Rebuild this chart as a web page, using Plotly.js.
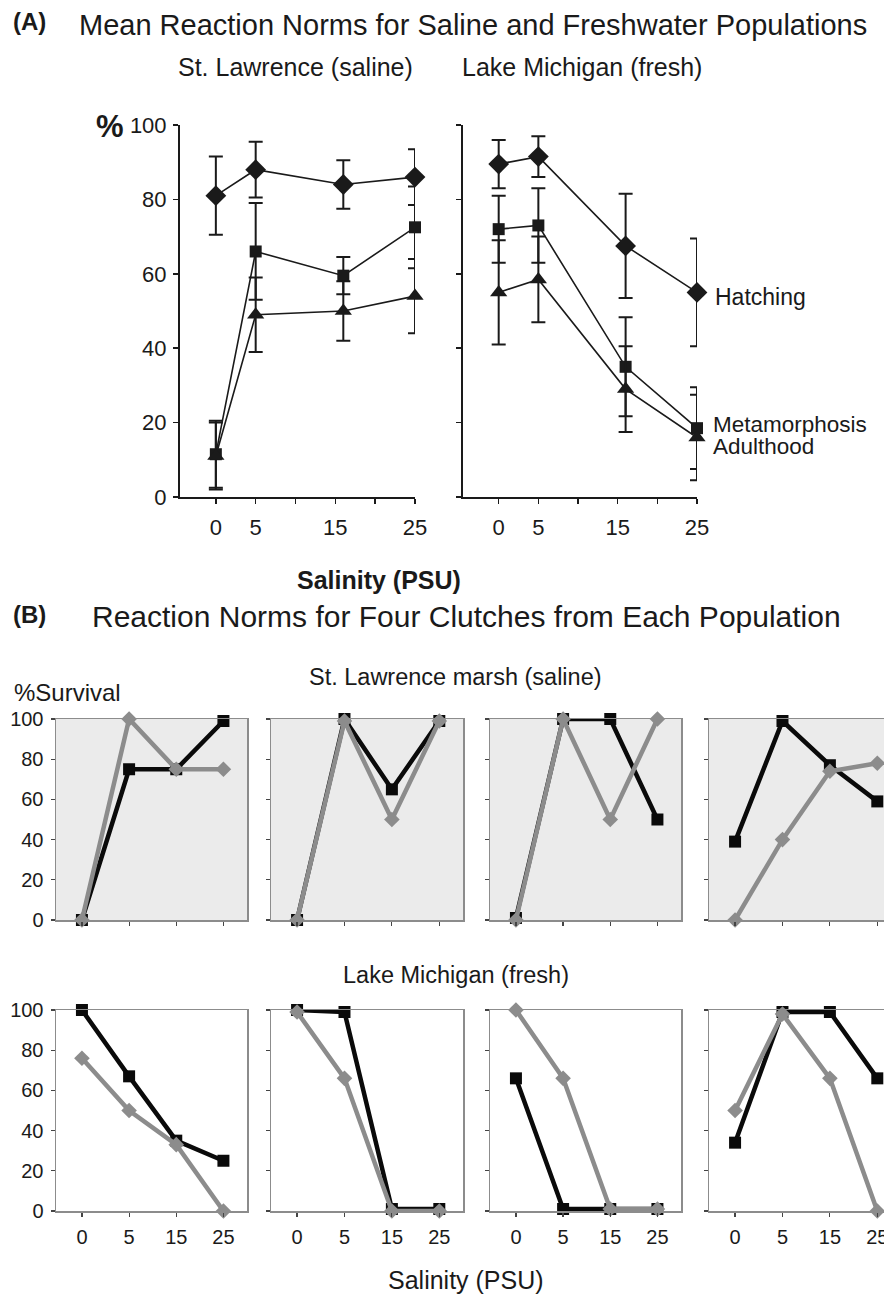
<!DOCTYPE html>
<html>
<head>
<meta charset="utf-8">
<script src="https://cdn.plot.ly/plotly-3.0.1.min.js"></script>
<style>
html,body{margin:0;padding:0;background:#fff;overflow:hidden;}
#chart{width:905px;height:1294px;}
</style>
</head>
<body>
<div id="chart"></div>
<script>
// ---------- Panel A data (mean reaction norms) ----------
const salinityA = [0, 5, 16, 25];          // measured salinity of treatments (PSU)
const salinityTickVals = [0, 5, 10, 15, 20, 25];
const salinityTickText = ['0', '5', '', '15', '', '25'];

const hatchSL = [81, 88, 84, 86];
const hatchSLerr = [10.5, 7.5, 6.5, 7.5];
const metaSL = [11.5, 66, 59.5, 72.5];
const metaSLerr = [9, 13, 5, 11];
const adultSL = [11, 49, 50, 54];
const adultSLerr = [9, 10, 8, 10];

const hatchLM = [89.5, 91.5, 67.5, 55];
const hatchLMerr = [6.5, 5.5, 14, 14.5];
const metaLM = [72, 73, 35, 18.5];
const metaLMerr = [9, 10, 13.3, 11];
const adultLM = [55, 58.5, 29, 16];
const adultLMerr = [14, 11.5, 11.5, 11.5];

// ---------- Panel B data (four clutches per population) ----------
const salinityCats = ['0', '5', '15', '25'];
const slBlack = [[0, 75, 75, 99], [0, 100, 65, 99], [1, 100, 100, 50], [39, 99, 77, 59]];
const slGrey  = [[0, 100, 75, 75], [0, 99, 50, 99], [0, 100, 50, 100], [0, 40, 74, 78]];
const lmBlack = [[100, 67, 35, 25], [100, 99, 1, 1], [66, 1, 1, 1], [34, 99, 99, 66]];
const lmGrey  = [[76, 50, 33, 0], [99, 66, 0, 0], [100, 66, 1, 1], [50, 98, 66, 0]];
const yTicksB = [0, 20, 40, 60, 80, 100];

// ---------- geometry helpers ----------
const W = 905, H = 1294;
const fx = p => p / W;
const fy = p => 1 - p / H;
const FONT = 'Liberation Sans, Arial, Helvetica, sans-serif';
const INK = '#1a1a1a';
const GREY = '#8c8c8c';

const traces = [];
const layout = {
  width: W, height: H,
  margin: {l: 0, r: 0, t: 0, b: 0},
  paper_bgcolor: '#fff', plot_bgcolor: 'rgba(0,0,0,0)',
  showlegend: false,
  font: {family: FONT, color: INK},
  annotations: [], shapes: []
};

// ----- Panel A axes -----
function axisA_x(domain) {
  return {domain: domain, range: [-4.5, 25], showgrid: false, zeroline: false,
    showline: true, linecolor: INK, linewidth: 2, ticks: 'outside', ticklen: 5,
    tickwidth: 1.5, tickcolor: INK, tickvals: salinityTickVals, ticktext: salinityTickText,
    tickfont: {size: 22, family: FONT, color: INK}, ticklabelstandoff: 5};
}
function axisA_y(showLabels, anchor) {
  return {domain: [fy(497), fy(125)], range: [0, 100], showgrid: false, zeroline: false,
    showline: true, linecolor: INK, linewidth: 2, ticks: 'outside', ticklen: 5,
    tickwidth: 1.5, tickcolor: INK, tickvals: [0, 20, 40, 60, 80, 100],
    showticklabels: showLabels, tickfont: {size: 22, family: FONT, color: INK},
    ticklabelstandoff: 2, anchor: anchor};
}
layout.xaxis = axisA_x([fx(180), fx(415)]); layout.xaxis.anchor = 'y';
layout.yaxis = axisA_y(true, 'x');
layout.xaxis2 = axisA_x([fx(463), fx(697)]); layout.xaxis2.anchor = 'y2';
layout.yaxis2 = axisA_y(false, 'x2');

function meanTrace(xa, ya, y, err, symbol, size) {
  return {type: 'scatter', mode: 'lines+markers', x: salinityA, y: y,
    xaxis: xa, yaxis: ya, cliponaxis: false,
    line: {color: INK, width: 1.6},
    marker: {symbol: symbol, size: size, color: INK},
    error_y: {type: 'data', array: err, visible: true, color: INK, thickness: 2, width: 7}};
}
traces.push(meanTrace('x', 'y', hatchSL, hatchSLerr, 'diamond', 16));
traces.push(meanTrace('x', 'y', metaSL, metaSLerr, 'square', 12));
traces.push(meanTrace('x', 'y', adultSL, adultSLerr, 'triangle-up', 15));
traces.push(meanTrace('x2', 'y2', hatchLM, hatchLMerr, 'diamond', 16));
traces.push(meanTrace('x2', 'y2', metaLM, metaLMerr, 'square', 12));
traces.push(meanTrace('x2', 'y2', adultLM, adultLMerr, 'triangle-up', 15));

// ----- Panel B axes -----
const bCols = [[56, 247], [271, 463], [490, 681], [709, 901]];
const bRows = [[719, 920], [1010, 1211]];
let axN = 3;
[[slBlack, slGrey], [lmBlack, lmGrey]].forEach((pair, r) => {
  const [blk, gry] = pair;
  bCols.forEach((c, k) => {
    const xn = 'xaxis' + axN, yn = 'yaxis' + axN;
    const xr = 'x' + axN, yr = 'y' + axN;
    layout[xn] = {domain: [fx(c[0]), fx(c[1])], type: 'category', range: [-0.55, 3.5],
      anchor: yr, showgrid: false, zeroline: false, showline: true, mirror: true,
      linecolor: GREY, linewidth: 1.5, ticks: 'outside', ticklen: 4, tickwidth: 1.2,
      tickcolor: '#444', showticklabels: r === 1,
      tickfont: {size: 20, family: FONT, color: INK}, ticklabelstandoff: 3};
    layout[yn] = {domain: [fy(bRows[r][1]), fy(bRows[r][0])], range: [0, 100],
      anchor: xr, showgrid: false, zeroline: false, showline: true, mirror: true,
      linecolor: GREY, linewidth: 1.5, ticks: 'outside', ticklen: 4, tickwidth: 1.2,
      tickcolor: '#444', tickvals: yTicksB, showticklabels: k === 0,
      tickfont: {size: 20, family: FONT, color: INK}, ticklabelstandoff: 3};
    if (r === 0) {
      layout.shapes.push({type: 'rect', xref: 'paper', yref: 'paper', layer: 'below',
        x0: fx(c[0]), x1: fx(c[1]), y0: fy(bRows[r][1]), y1: fy(bRows[r][0]),
        fillcolor: '#ebebeb', line: {width: 0}});
    }
    traces.push({type: 'scatter', mode: 'lines+markers', x: salinityCats, y: blk[k],
      xaxis: xr, yaxis: yr, cliponaxis: false,
      line: {color: '#0a0a0a', width: 4.5},
      marker: {symbol: 'square', size: 12, color: '#0a0a0a'}});
    traces.push({type: 'scatter', mode: 'lines+markers', x: salinityCats, y: gry[k],
      xaxis: xr, yaxis: yr, cliponaxis: false,
      line: {color: GREY, width: 4.5},
      marker: {symbol: 'diamond', size: 12, color: GREY}});
    axN++;
  });
});

// ----- Text annotations -----
function txt(text, px, py, size, opts) {
  opts = opts || {};
  layout.annotations.push({text: text, xref: 'paper', yref: 'paper',
    x: fx(px), y: fy(py), xanchor: opts.xanchor || 'left', yanchor: 'middle',
    showarrow: false, font: {size: size, family: FONT, color: INK}});
}
txt('<b>(A)</b>', 11, 22, 24);
txt('Mean Reaction Norms for Saline and Freshwater Populations', 77, 25, 29);
txt('St. Lawrence (saline)', 295, 67, 25, {xanchor: 'center'});
txt('Lake Michigan (fresh)', 582, 67, 25, {xanchor: 'center'});
txt('<b>%</b>', 94, 127, 31);
txt('Hatching', 713, 297, 23);
txt('Metamorphosis', 711, 425, 22.5);
txt('Adulthood', 711, 447, 22.5);
txt('<b>Salinity (PSU)</b>', 379, 580, 25, {xanchor: 'center'});
txt('<b>(B)</b>', 11, 614, 24);
txt('Reaction Norms for Four Clutches from Each Population', 466, 616, 30, {xanchor: 'center'});
txt('St. Lawrence marsh (saline)', 456, 677, 23.5, {xanchor: 'center'});
txt('%Survival', 12, 692, 24);
txt('Lake Michigan (fresh)', 456, 975, 23.5, {xanchor: 'center'});
txt('Salinity (PSU)', 466, 1280, 25, {xanchor: 'center'});

Plotly.newPlot('chart', traces, layout, {displayModeBar: false, staticPlot: true});
</script>
</body>
</html>
